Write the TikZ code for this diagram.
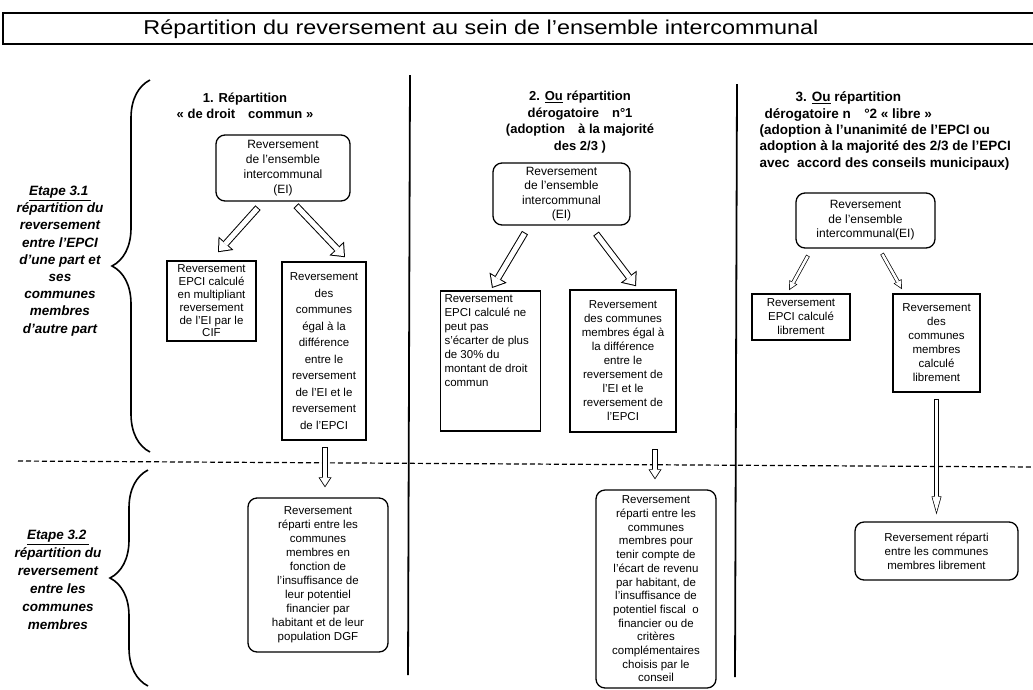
\documentclass[tikz,border=0pt]{standalone}
\usepackage{fontspec}
\setmainfont{Liberation Sans}
\usetikzlibrary{arrows.meta, positioning, decorations.pathreplacing}

\begin{document}
\begin{tikzpicture}[x=1pt, y=-1pt,
  rbox/.style = {draw, line width=1.3pt, rounded corners=9pt, align=center, inner sep=2pt, font=\fontsize{11.5}{14}\selectfont},
  sqbox/.style = {draw, line width=1.6pt, align=center, inner sep=2pt, font=\fontsize{11.5}{14}\selectfont},
  head/.style = {align=center, font=\bfseries\fontsize{13}{16.5}\selectfont},
  etape/.style = {align=center, font=\bfseries\itshape\fontsize{13.5}{17.2}\selectfont},
  curly/.style = {decorate, decoration={brace, mirror, amplitude=38pt}, line width=1.6pt},
  sep/.style = {line width=1.8pt},
  fatarrow/.style = {line width=7pt, -{Triangle[length=12pt,width=20pt,line width=0pt]},
    postaction={draw=white, line width=5pt, shorten <=1pt, shorten >=1.56pt,
      -{Triangle[length=9.44pt,width=15.7pt,line width=0pt]}}},
  midarrow/.style = {line width=6pt, -{Triangle[length=10pt,width=13pt,line width=0pt]},
    postaction={draw=white, line width=4.4pt, shorten <=0.8pt, shorten >=1.47pt,
      -{Triangle[length=7.73pt,width=10pt,line width=0pt]}}},
  thinarrow/.style = {line width=4pt, -{Triangle[length=9pt,width=9pt,line width=0pt]},
    postaction={draw=white, line width=2.6pt, shorten <=0.7pt, shorten >=1.57pt,
      -{Triangle[length=6.73pt,width=6.73pt,line width=0pt]}}},
  longarrow/.style = {line width=5pt, -{Triangle[length=18pt,width=10pt,line width=0pt]},
    postaction={draw=white, line width=3.6pt, shorten <=0.7pt, shorten >=2.62pt,
      -{Triangle[length=14.68pt,width=8.16pt,line width=0pt]}}}
]
  \useasboundingbox (0,0) rectangle (1033,689);

  % Title
  \draw[line width=1.3pt] (1033,13) -- (3,13) -- (3,44) -- (1033,44);
  \node (title) at (481,29) {\scalebox{1.17}[1]{\fontsize{20}{23}\selectfont Répartition du reversement au sein de l'ensemble intercommunal}};

  % Separators
  \draw[sep] (410,75) -- (408,675);
  \draw[sep] (737,84) -- (735,677);
  \draw[line width=1.2pt, dash pattern=on 5pt off 3pt] (18,461) -- (1033,467);

  % Steps
  \draw[curly] (150,80) -- (150,452);
  \draw[curly] (148,470) -- (148,686);
  \node[etape] (et1) at (60,261) {\underline{Etape 3.1\,}\\répartition du\\reversement\\entre l'EPCI\\d'une part et\\ses\\communes\\membres\\d'autre part};
  \node[etape, font=\bfseries\itshape\fontsize{13.5}{18}\selectfont] (et2) at (58,580) {\underline{Etape 3.2\,}\\répartition du\\reversement\\entre les\\communes\\membres};

  % Column 1
  \node[head] (h1) at (245,106) {1. Répartition\\« de droit\quad commun »};
  \node[rbox, minimum width=134pt, minimum height=66pt, font=\fontsize{12}{15}\selectfont] (t1) at (283,168) {Reversement\\de l'ensemble\\intercommunal\\(EI)};
  \node[sqbox, minimum width=89pt, minimum height=80pt, font=\fontsize{11.5}{12.8}\selectfont] (l1) at (211.5,301) {Reversement\\EPCI calculé\\en multipliant\\reversement\\de l'EI par le\\CIF};
  \node[sqbox, minimum width=84pt, minimum height=178pt, font=\fontsize{11.5}{16.5}\selectfont] (r1) at (324,351) {Reversement\\des\\communes\\égal à la\\différence\\entre le\\reversement\\de l'EI et le\\reversement\\de l'EPCI};
  \node[rbox, minimum width=140pt, minimum height=154pt] (b1) at (318,575) {Reversement\\réparti entre les\\communes\\membres en\\fonction de\\l'insuffisance de\\leur potentiel\\financier par\\habitant et de leur\\population DGF};

  \draw[fatarrow] ([xshift=-25pt,yshift=-6pt]t1.south) -- ([xshift=6.5pt,yshift=8pt]l1.north);
  \draw[fatarrow] ([xshift=13pt,yshift=-4pt]t1.south) -- ([xshift=21pt,yshift=4pt]r1.north);
  \draw[midarrow] ([xshift=1pt,yshift=-6pt]r1.south) -- ([xshift=7pt,yshift=10pt]b1.north);

  % Column 2
  \node[head] (h2) at (580,122) {2. \underline{Ou} répartition\\dérogatoire\quad n°1\\(adoption\quad à la majorité\\des 2/3 )};
  \node[rbox, minimum width=137pt, minimum height=62pt, font=\fontsize{12}{14.5}\selectfont] (t2) at (561.5,194) {Reversement\\de l'ensemble\\intercommunal\\(EI)};
  \node[sqbox, minimum width=100pt, minimum height=140pt, anchor=north, inner sep=3pt] (l2) at (490.5,290) {\parbox[t][132pt][t]{92pt}{\raggedright Reversement\\EPCI calculé ne\\peut pas\\s'écarter de plus\\de 30\% du\\montant de droit\\commun}};
  \node[sqbox, minimum width=106pt, minimum height=142pt] (r2) at (623,361) {Reversement\\des communes\\membres égal à\\la différence\\entre le\\reversement de\\l'EI et le\\reversement de\\l'EPCI};
  \node[rbox, minimum width=120pt, minimum height=198pt, font=\fontsize{11.5}{13.7}\selectfont] (b2) at (656,589) {Reversement\\réparti entre les\\communes\\membres pour\\tenir compte de\\l'écart de revenu\\par habitant, de\\l'insuffisance de\\potentiel fiscal\ \ o\\financier ou de\\critères\\complémentaires\\choisis par le\\conseil};

  \draw[fatarrow] ([xshift=-36.5pt,yshift=-7pt]t2.south) -- ([xshift=1.5pt,yshift=2pt]l2.north);
  \draw[fatarrow] ([xshift=34.5pt,yshift=-8pt]t2.south) -- ([xshift=13pt,yshift=3pt]r2.north);
  \draw[midarrow] ([xshift=-1pt,yshift=40pt]b2.north) -- ([xshift=-1pt,yshift=10pt]b2.north);

  % Column 3
  \node[head, align=left, anchor=west, font=\bfseries\fontsize{13.5}{16.3}\selectfont] (h3) at (756,131) {\hspace*{36pt}3. \underline{Ou} répartition\\\hspace*{5pt}dérogatoire n\quad °2 « libre »\\(adoption à l'unanimité de l'EPCI ou\\adoption à la majorité des 2/3 de l'EPCI\\avec\ \ accord des conseils municipaux)};
  \node[rbox, minimum width=139pt, minimum height=55pt, font=\fontsize{12}{14.5}\selectfont] (t3) at (865.5,220.5) {Reversement\\de l'ensemble\\intercommunal(EI)};
  \node[sqbox, minimum width=98pt, minimum height=46pt] (l3) at (801,317) {Reversement\\EPCI calculé\\librement};
  \node[sqbox, minimum width=87pt, minimum height=98pt] (r3) at (936.5,343) {Reversement\\des\\communes\\membres\\calculé\\librement};
  \node[rbox, minimum width=163pt, minimum height=58pt] (b3) at (936.5,551) {Reversement réparti\\entre les communes\\membres librement};

  \draw[thinarrow] ([xshift=-57.5pt,yshift=-7pt]t3.south) -- ([xshift=-12pt,yshift=3pt]l3.north);
  \draw[thinarrow] ([xshift=16.5pt,yshift=-5pt]t3.south) -- ([xshift=-34.5pt,yshift=4pt]r3.north);
  \draw[longarrow] ([yshift=-6pt]r3.south) -- ([yshift=7pt]b3.north);

\end{tikzpicture}
\end{document}
